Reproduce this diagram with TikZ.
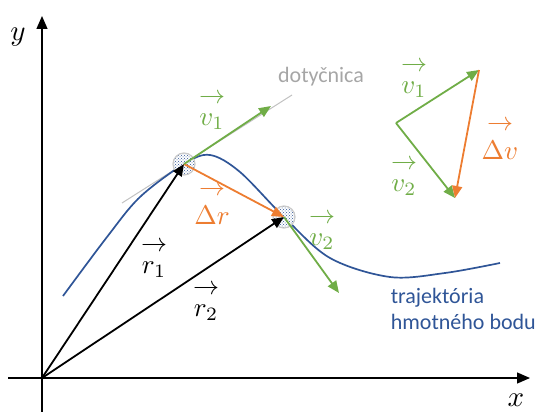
\documentclass[tikz,border=0pt]{standalone}
\usepackage{graphicx}
\usepackage{fontspec}
\setmainfont{Carlito}
\usetikzlibrary{arrows.meta, positioning, patterns}
\definecolor{cgreen}{HTML}{70AD47}
\definecolor{corange}{HTML}{ED7D31}
\definecolor{cblue}{HTML}{2F5597}
\definecolor{cgrey}{HTML}{A6A6A6}
\tikzset{
  every picture/.style={line width=1.6pt},
  vec/.style={-{Triangle[length=12pt, width=10pt]}, draw=#1, line width=1.8pt},
  vec/.default=black,
  axis/.style={-{Triangle[length=13pt, width=11pt]}, line width=1.3pt},
  ball/.style={circle, minimum size=22pt, inner sep=0pt, draw=cgrey!60, line width=1.2pt,
    preaction={fill=white}, pattern=crosshatch dots, pattern color=cblue},
  vlabel/.style={text=#1, align=center, inner sep=0pt},
  note/.style={font=\fontsize{22}{26}\selectfont, align=left, inner sep=0pt},
}
\newcommand{\vekt}[2]{\scalebox{2.6}{$\rightarrow$}\\[10pt]\scalebox{2.7}{$#1#2$}}

\begin{document}
\begin{tikzpicture}[x=1pt, y=-1pt]
  \useasboundingbox (0,0) rectangle (538,412);
  % axes
  \coordinate (o) at (42,378);
  \coordinate (ytop) at (42,16);
  \coordinate (xend) at (530,378);
  \draw[axis] (42,412) -- (ytop);
  \draw[axis] (8,378) -- (xend);
  \node (ylab) at (18,37) {\scalebox{2.9}{$y$}};
  \node (xlab) at (516,400) {\scalebox{2.9}{$x$}};
  % tangent and trajectory
  \draw[cgrey!70, line width=1pt] (122,203) -- (292,95);
  \draw[cblue, line width=1.7pt] plot[smooth, tension=0.55] coordinates
    {(63,296) (107,237) (140,197) (184,164) (210,155) (240,172) (284,217) (330,258) (390,277) (445,273) (500,263)};
  \node[ball] (p1) at (184,164) {};
  \node[ball] (p2) at (284,217) {};
  % vectors on the path
  \coordinate (v1end) at (271,106);
  \coordinate (v2end) at (339,293);
  \draw[vec] (o) -- (p1.center);
  \draw[vec] (o) -- (p2.center);
  \draw[vec=corange] (p1.center) -- (p2.center);
  \draw[vec=cgreen] (p1.center) -- (v1end);
  \draw[vec=cgreen] (p2.center) -- (v2end);
  \node[vlabel=cgreen] (lv1) at (212,112) {\vekt{v}{_1}};
  \node[vlabel=corange] (ldr) at (212,205) {\vekt{\Delta}{r}};
  \node[vlabel=cgreen] (lv2) at (322,232) {\vekt{v}{_2}};
  \node[vlabel=black] (lr1) at (154,260) {\vekt{r}{_1}};
  \node[vlabel=black] (lr2) at (206,303) {\vekt{r}{_2}};
  \node[note, text=cgrey] (tang) at (321,77) {dotyčnica};
  \node[note, text=cblue, anchor=north west] (traj) at (390,287) {trajektória\\hmotného bodu};
  % velocity triangle
  \coordinate (ta) at (396,123);
  \coordinate (tb) at (479,70);
  \coordinate (tc) at (455,198);
  \draw[vec=cgreen] (ta) -- (tb);
  \draw[vec=cgreen] (ta) -- (tc);
  \draw[vec=corange] (tb) -- (tc);
  \node[vlabel=cgreen] (tv1) at (414,80) {\vekt{v}{_1}};
  \node[vlabel=cgreen] (tv2) at (404,178) {\vekt{v}{_2}};
  \node[vlabel=corange] (tdv) at (500,140) {\vekt{\Delta}{v}};
\end{tikzpicture}
\end{document}
